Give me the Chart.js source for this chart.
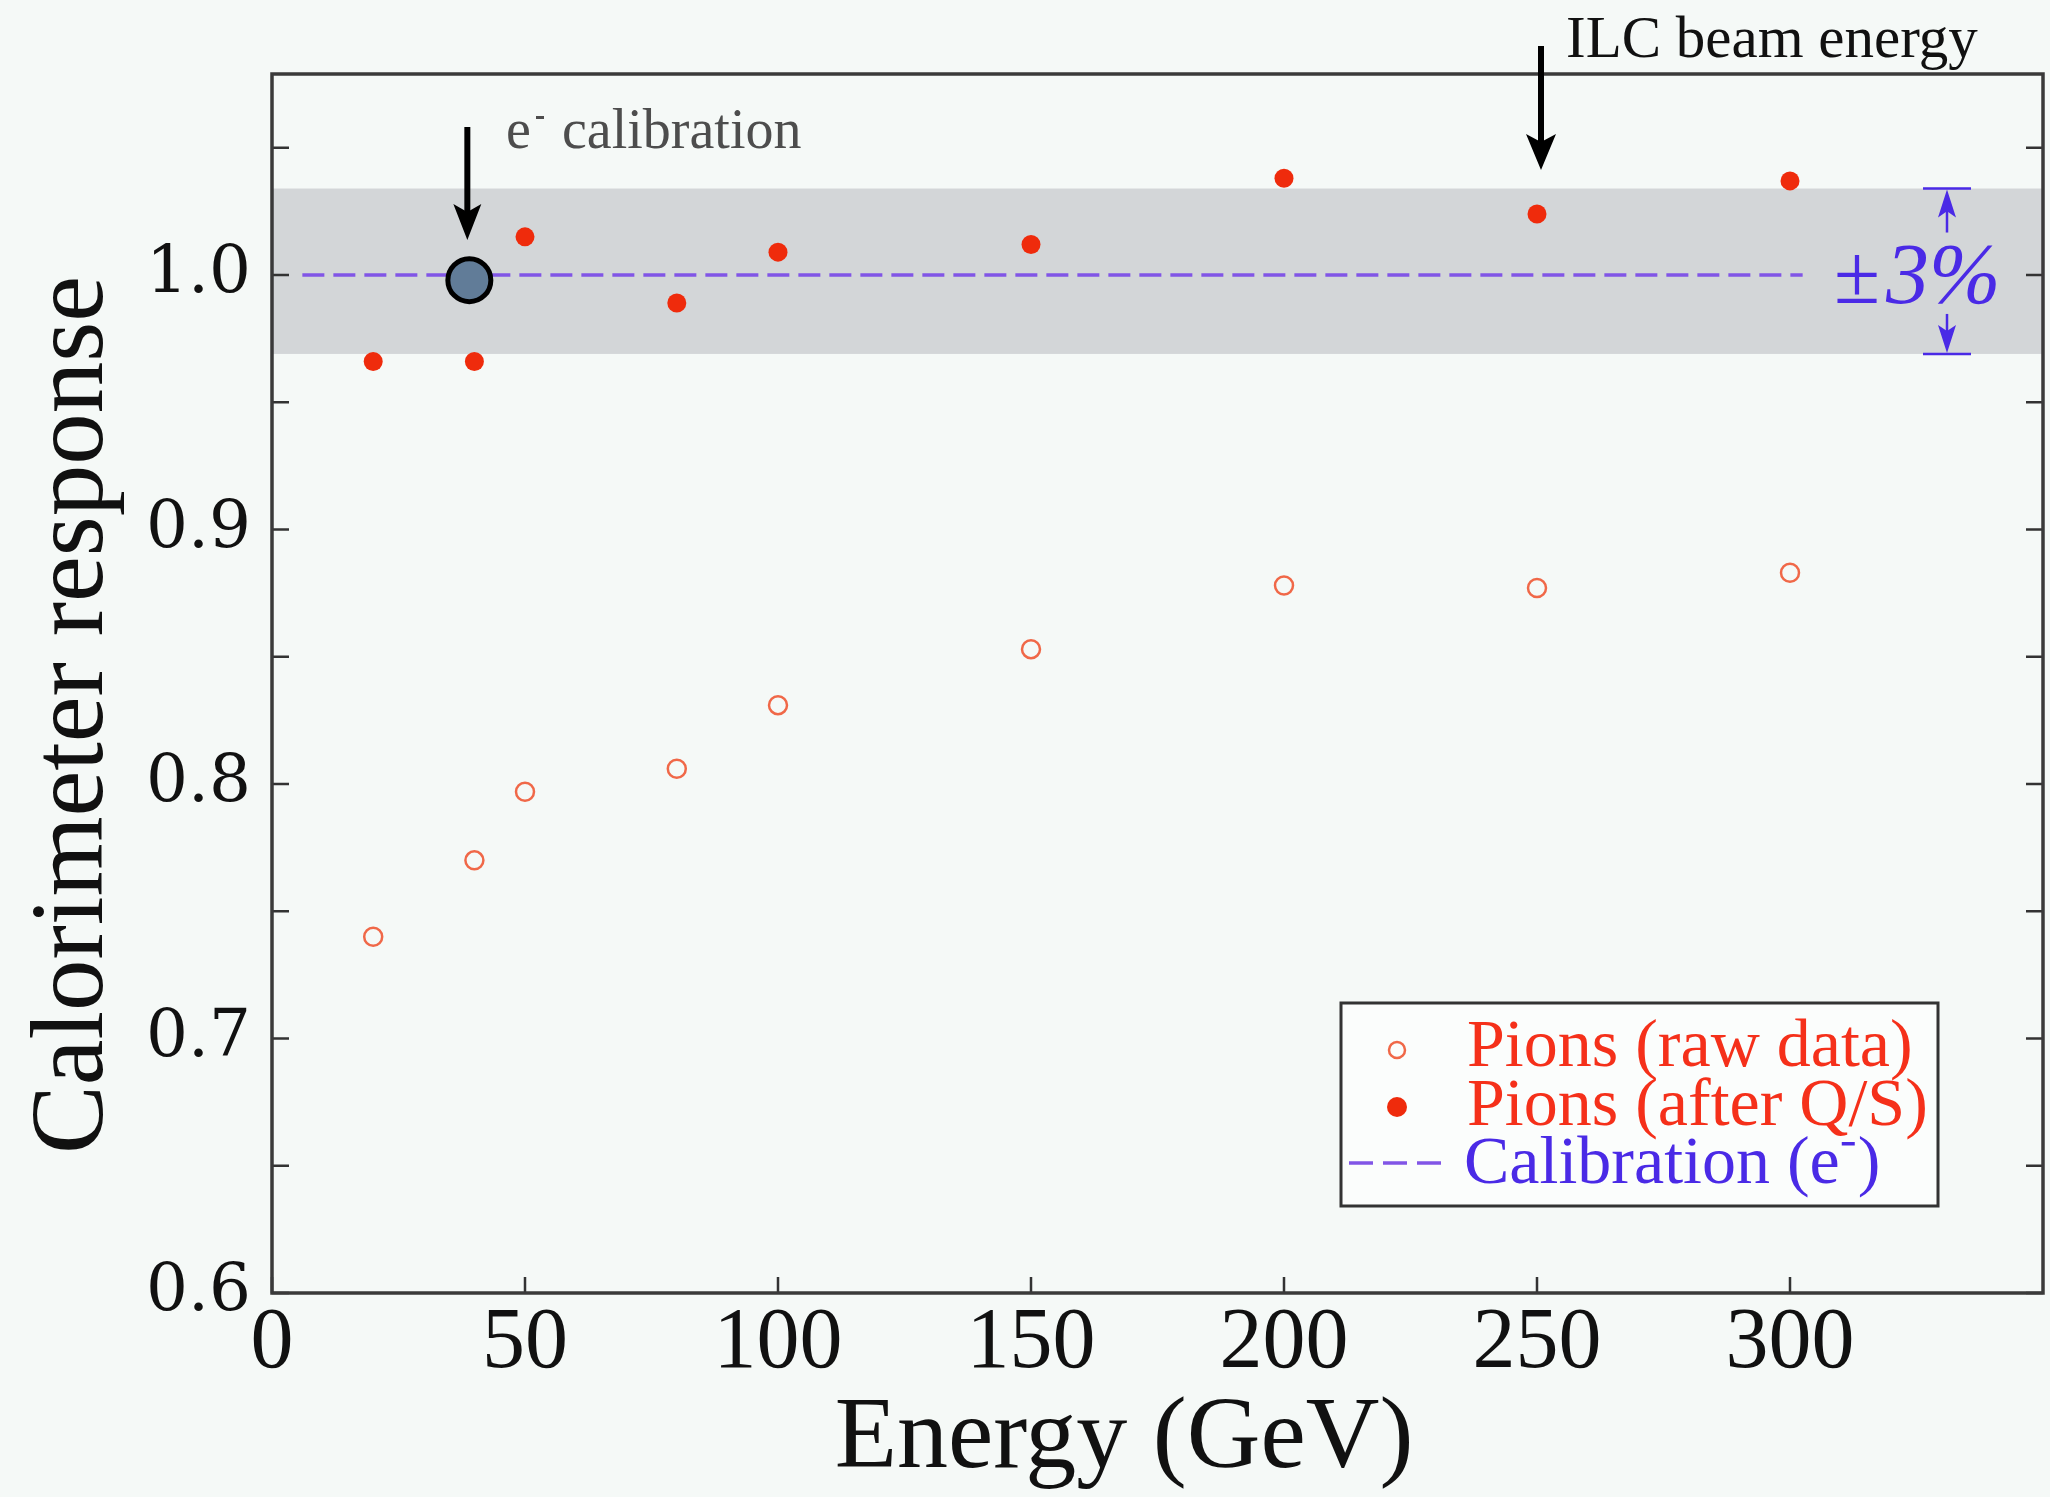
<!DOCTYPE html>
<html>
<head>
<meta charset="utf-8">
<script src="https://cdn.jsdelivr.net/npm/chart.js@4.4.1/dist/chart.umd.min.js"></script>
<style>
  html, body { margin: 0; padding: 0; background: #f5f9f7; overflow: hidden; }
  #wrap { width: 2050px; height: 1497px; }
</style>
</head>
<body>
<div id="wrap"><canvas id="chart" width="2050" height="1497"></canvas></div>
<script>
// beam energies (GeV) and measured responses
const energies = [20, 40, 50, 80, 100, 150, 200, 250, 300];
const rawResponse = [0.740, 0.770, 0.797, 0.806, 0.831, 0.853, 0.878, 0.877, 0.883];
const qsResponse = [0.966, 0.966, 1.015, 0.989, 1.009, 1.012, 1.038, 1.024, 1.037];

// electron calibration point and reference line
const calibEnergy = [39];
const calibResponse = [0.998];
const calibLineX = [6, 302.5];
const calibLineY = [1.0, 1.0];
const bandLimits = [0.969, 1.034]; // grey +-3% band
const ilcEnergy = 250;

// axis ticks
const xTicks = [0, 50, 100, 150, 200, 250, 300];
const xTickLabels = ['0', '50', '100', '150', '200', '250', '300'];
const yTicks = [0.6, 0.7, 0.8, 0.9, 1.0];
const yTickLabels = ['0.6', '0.7', '0.8', '0.9', '1.0'];
const yMinorTicks = [0.65, 0.75, 0.85, 0.95, 1.05];

const legendLabels = ['Pions (raw data)', 'Pions (after Q/S)', 'Calibration (e'];

const RED = '#ef2b0c';
const RED_OPEN = '#f06848';
const BLUE = '#4a2ae6';
const DASH = '#8155e6';
const SERIF = '"Liberation Serif", "Times New Roman", serif';

const toPts = (xs, ys) => xs.map((x, i) => ({ x: x, y: ys[i] }));

function arrowDown(ctx, x, y0, y1, head, halfW, lw, color) {
  ctx.save();
  ctx.strokeStyle = color;
  ctx.fillStyle = color;
  ctx.lineWidth = lw;
  ctx.beginPath();
  ctx.moveTo(x, y0);
  ctx.lineTo(x, y1 - head * 0.7);
  ctx.stroke();
  ctx.beginPath();
  ctx.moveTo(x, y1);
  ctx.lineTo(x - halfW, y1 - head);
  ctx.lineTo(x, y1 - head * 0.78);
  ctx.lineTo(x + halfW, y1 - head);
  ctx.closePath();
  ctx.fill();
  ctx.restore();
}

function arrowUp(ctx, x, y0, y1, head, halfW, lw, color) {
  // y0 bottom of shaft, y1 tip
  ctx.save();
  ctx.strokeStyle = color;
  ctx.fillStyle = color;
  ctx.lineWidth = lw;
  ctx.beginPath();
  ctx.moveTo(x, y0);
  ctx.lineTo(x, y1 + head * 0.7);
  ctx.stroke();
  ctx.beginPath();
  ctx.moveTo(x, y1);
  ctx.lineTo(x - halfW, y1 + head);
  ctx.lineTo(x, y1 + head * 0.78);
  ctx.lineTo(x + halfW, y1 + head);
  ctx.closePath();
  ctx.fill();
  ctx.restore();
}

const decor = {
  id: 'decor',
  beforeDraw(chart) {
    const ctx = chart.ctx;
    ctx.save();
    ctx.fillStyle = '#f5f9f7';
    ctx.fillRect(0, 0, chart.width, chart.height);
    ctx.restore();
  },
  beforeDatasetsDraw(chart) {
    const ctx = chart.ctx, a = chart.chartArea, y = chart.scales.y;
    const top = y.getPixelForValue(bandLimits[1]);
    const bot = y.getPixelForValue(bandLimits[0]);
    ctx.save();
    ctx.fillStyle = '#d3d6d8';
    ctx.fillRect(a.left, top, a.right - a.left, bot - top);
    ctx.restore();
  },
  afterDraw(chart) {
    const ctx = chart.ctx, a = chart.chartArea;
    const xs = chart.scales.x, ys = chart.scales.y;
    ctx.save();

    // inward ticks
    ctx.strokeStyle = '#333';
    ctx.lineWidth = 2.5;
    ctx.beginPath();
    yTicks.concat(yMinorTicks).forEach(v => {
      const p = ys.getPixelForValue(v);
      ctx.moveTo(a.left, p); ctx.lineTo(a.left + 17, p);
      ctx.moveTo(a.right, p); ctx.lineTo(a.right - 17, p);
    });
    xTicks.forEach(v => {
      const p = xs.getPixelForValue(v);
      ctx.moveTo(p, a.bottom); ctx.lineTo(p, a.bottom - 16);
    });
    ctx.stroke();

    // frame
    ctx.strokeStyle = '#3a3a3a';
    ctx.lineWidth = 3.5;
    ctx.strokeRect(a.left, a.top, a.right - a.left, a.bottom - a.top);

    // axis titles
    ctx.fillStyle = '#111';
    ctx.textAlign = 'center';
    ctx.textBaseline = 'alphabetic';
    ctx.font = '102px ' + SERIF;
    ctx.fillText('Energy (GeV)', 1124, 1467);
    ctx.save();
    ctx.translate(102, 715);
    ctx.rotate(-Math.PI / 2);
    ctx.font = '103px ' + SERIF;
    ctx.fillText('Calorimeter response', 0, 0);
    ctx.restore();

    // ILC beam energy annotation
    const ilcX = xs.getPixelForValue(ilcEnergy) + 4;
    arrowDown(ctx, ilcX, 46, 170, 36, 15, 6, '#000');
    ctx.textAlign = 'left';
    ctx.fillStyle = '#111';
    ctx.font = '59px ' + SERIF;
    ctx.fillText('ILC beam energy', 1566, 57);

    // e- calibration annotation
    const cx = xs.getPixelForValue(calibEnergy[0]) - 2;
    arrowDown(ctx, cx, 127, 240, 36, 14, 6, '#000');
    ctx.fillStyle = '#4d4d4d';
    ctx.font = '56px ' + SERIF;
    ctx.fillText('e', 506, 148);
    ctx.fillRect(536, 116, 8, 3);
    ctx.fillText('calibration', 562, 148);

    // +-3% marker
    const bt = ys.getPixelForValue(bandLimits[1]);
    const bb = ys.getPixelForValue(bandLimits[0]);
    const mx = 1947;
    ctx.strokeStyle = BLUE;
    ctx.lineWidth = 2.5;
    ctx.beginPath();
    ctx.moveTo(mx - 24, bt); ctx.lineTo(mx + 24, bt);
    ctx.moveTo(mx - 24, bb); ctx.lineTo(mx + 24, bb);
    ctx.stroke();
    arrowUp(ctx, mx, bt + 44, bt + 1, 28, 9, 2.5, BLUE);
    arrowDown(ctx, mx, bb - 40, bb - 1, 28, 9, 2.5, BLUE);
    ctx.fillStyle = BLUE;
    ctx.font = '84px ' + SERIF;
    ctx.fillText('\u00B1', 1834, 303);
    ctx.font = 'italic 86px ' + SERIF;
    ctx.fillText('3%', 1886, 303);

    // legend
    ctx.fillStyle = '#fbfdfc';
    ctx.fillRect(1341, 1003, 597, 203);
    ctx.strokeStyle = '#333';
    ctx.lineWidth = 3;
    ctx.strokeRect(1341, 1003, 597, 203);

    ctx.strokeStyle = RED_OPEN;
    ctx.lineWidth = 2.5;
    ctx.beginPath();
    ctx.arc(1397, 1050, 8, 0, Math.PI * 2);
    ctx.stroke();
    ctx.fillStyle = RED;
    ctx.beginPath();
    ctx.arc(1397, 1107, 10, 0, Math.PI * 2);
    ctx.fill();
    ctx.strokeStyle = DASH;
    ctx.lineWidth = 3.5;
    ctx.setLineDash([24, 10]);
    ctx.beginPath();
    ctx.moveTo(1349, 1163); ctx.lineTo(1446, 1163);
    ctx.stroke();
    ctx.setLineDash([]);

    ctx.font = '68px ' + SERIF;
    ctx.fillStyle = '#f5301a';
    ctx.fillText(legendLabels[0], 1467, 1066);
    ctx.fillText(legendLabels[1], 1467, 1125);
    ctx.fillStyle = BLUE;
    ctx.fillText(legendLabels[2], 1464, 1183);
    const w = ctx.measureText(legendLabels[2]).width;
    ctx.fillRect(1464 + w + 2, 1142, 13, 3.5);
    ctx.fillText(')', 1464 + w + 18, 1183);

    ctx.restore();
  }
};

new Chart(document.getElementById('chart'), {
  type: 'scatter',
  data: {
    datasets: [
      {
        label: 'e- calibration',
        data: toPts(calibEnergy, calibResponse),
        pointRadius: 21.5,
        pointBackgroundColor: '#617c98',
        pointBorderColor: '#000',
        pointBorderWidth: 5,
        order: 0
      },
      {
        label: legendLabels[1],
        data: toPts(energies, qsResponse),
        pointRadius: 9.5,
        pointBackgroundColor: RED,
        pointBorderColor: RED,
        pointBorderWidth: 0,
        order: 1
      },
      {
        label: legendLabels[0],
        data: toPts(energies, rawResponse),
        pointRadius: 9,
        pointBackgroundColor: 'rgba(0,0,0,0)',
        pointBorderColor: RED_OPEN,
        pointBorderWidth: 2.5,
        order: 2
      },
      {
        type: 'line',
        label: legendLabels[2],
        data: toPts(calibLineX, calibLineY),
        borderColor: DASH,
        borderWidth: 3.5,
        borderDash: [22, 9],
        pointRadius: 0,
        fill: false,
        order: 3
      }
    ]
  },
  options: {
    responsive: false,
    animation: false,
    devicePixelRatio: 1,
    layout: { autoPadding: false, padding: { top: 74, right: 7, left: 0, bottom: 0 } },
    plugins: { legend: { display: false }, tooltip: { enabled: false } },
    scales: {
      x: {
        type: 'linear',
        min: 0,
        max: 350,
        grid: { display: false, drawTicks: false },
        border: { display: false },
        afterFit: s => { s.height = 204; s.paddingLeft = 0; s.paddingRight = 0; },
        afterBuildTicks: s => { s.ticks = xTicks.map(v => ({ value: v })); },
        ticks: {
          callback: (v, i) => xTickLabels[i],
          font: { family: SERIF, size: 86 },
          color: '#111',
          padding: 0,
          maxRotation: 0,
          autoSkip: false
        }
      },
      y: {
        type: 'linear',
        min: 0.6,
        max: 1.079,
        grid: { display: false, drawTicks: false },
        border: { display: false },
        afterFit: s => { s.width = 272; s.paddingTop = 0; s.paddingBottom = 0; },
        afterBuildTicks: s => { s.ticks = yTicks.map(v => ({ value: v })); },
        ticks: {
          callback: (v, i) => yTickLabels[i],
          font: { family: '"DejaVu Serif", serif', size: 66 },
          color: '#111',
          padding: 21,
          autoSkip: false
        }
      }
    }
  },
  plugins: [decor]
});
</script>
</body>
</html>
